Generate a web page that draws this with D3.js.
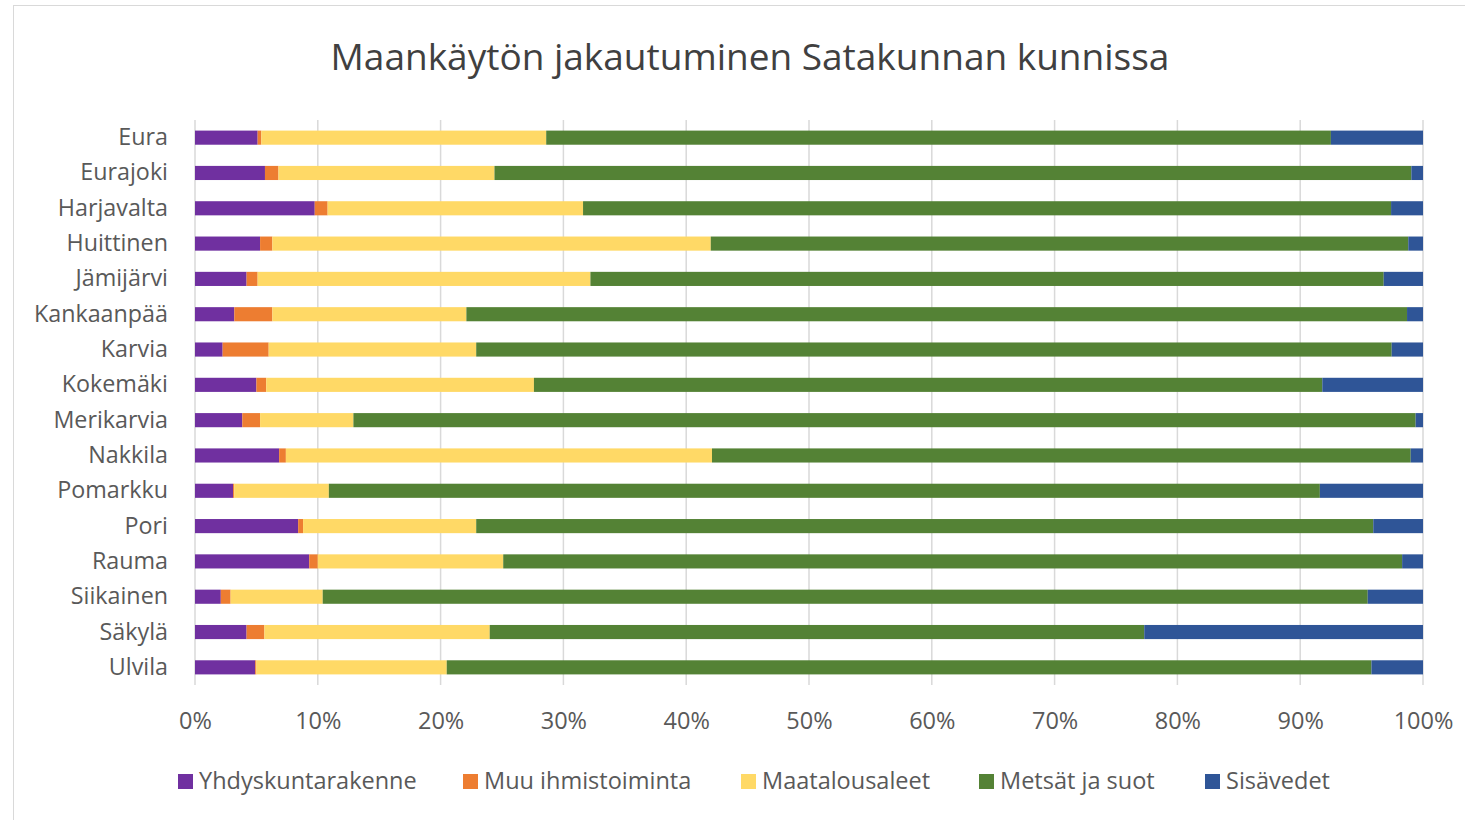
<!DOCTYPE html>
<html>
<head>
<meta charset="utf-8">
<script src="https://cdn.jsdelivr.net/npm/d3@7"></script>
<style>
  body { margin: 0; background: #fff; }
  svg { display: block; font-family: 'Open Sans', sans-serif; }
</style>
</head>
<body>
<div id="chart"></div>
<script>
// Municipalities (top to bottom)
const kunnat = ['Eura', 'Eurajoki', 'Harjavalta', 'Huittinen', 'Jämijärvi', 'Kankaanpää', 'Karvia', 'Kokemäki',
  'Merikarvia', 'Nakkila', 'Pomarkku', 'Pori', 'Rauma', 'Siikainen', 'Säkylä', 'Ulvila'];

const seriesNames = ['Yhdyskuntarakenne', 'Muu ihmistoiminta', 'Maatalousaleet', 'Metsät ja suot', 'Sisävedet'];

// shares in percent
const yhdyskunta = [5.1, 5.7, 9.75, 5.3, 4.2, 3.2, 2.25, 5.0, 3.85, 6.85, 3.1, 8.4, 9.3, 2.1, 4.2, 4.9];
const muu        = [0.3, 1.1, 1.05, 1.0, 0.9, 3.1, 3.75, 0.8, 1.45, 0.55, 0.1, 0.4, 0.7, 0.8, 1.45, 0.1];
const maatalous  = [23.2, 17.6, 20.8, 35.7, 27.1, 15.8, 16.9, 21.8, 7.6, 34.7, 7.7, 14.1, 15.1, 7.5, 18.35, 15.5];
const metsat     = [63.9, 74.7, 65.8, 56.8, 64.6, 76.6, 74.55, 64.2, 86.5, 56.9, 80.7, 73.05, 73.2, 85.1, 53.3, 75.3];
const sisavedet  = [7.5, 0.95, 2.6, 1.2, 3.2, 1.3, 2.55, 8.2, 0.6, 1.0, 8.4, 4.05, 1.7, 4.5, 22.7, 4.2];

const tickValues = [0, 0.1, 0.2, 0.3, 0.4, 0.5, 0.6, 0.7, 0.8, 0.9, 1];

const colors = ['#7030A0', '#ED7D31', '#FFD966', '#548235', '#2F5597'];

const rows = kunnat.map((k, i) => {
  const vals = [yhdyskunta[i], muu[i], maatalous[i], metsat[i], sisavedet[i]];
  const total = d3.sum(vals);
  const row = { kunta: k };
  seriesNames.forEach((s, j) => { row[s] = vals[j] / total; });
  return row;
});

const width = 1465;
const height = 820;
const margin = { top: 120, right: 42, bottom: 135, left: 195 };

const svg = d3.select('#chart')
  .append('svg')
  .attr('width', width)
  .attr('height', height);

// chart frame
svg.append('rect')
  .attr('x', 13.5)
  .attr('y', 5.5)
  .attr('width', width)
  .attr('height', height)
  .attr('fill', 'none')
  .attr('stroke', '#d9d9d9');

svg.append('text')
  .attr('x', 750)
  .attr('y', 70)
  .attr('text-anchor', 'middle')
  .attr('font-size', 37)
  .attr('fill', '#404040')
  .text('Maankäytön jakautuminen Satakunnan kunnissa');

const x = d3.scaleLinear()
  .domain([0, 1])
  .range([margin.left, width - margin.right]);

const y = d3.scaleBand()
  .domain(kunnat)
  .range([margin.top, height - margin.bottom])
  .paddingInner(0.6)
  .paddingOuter(0.3);

// gridlines
svg.append('g')
  .selectAll('line')
  .data(tickValues)
  .join('line')
  .attr('x1', d => x(d))
  .attr('x2', d => x(d))
  .attr('y1', margin.top)
  .attr('y2', height - margin.bottom)
  .attr('stroke', '#d9d9d9')
  .attr('stroke-width', 1.5);

const stack = d3.stack().keys(seriesNames);
const stacked = stack(rows);

svg.append('g')
  .selectAll('g')
  .data(stacked)
  .join('g')
  .attr('fill', (d, i) => colors[i])
  .selectAll('rect')
  .data(d => d)
  .join('rect')
  .attr('x', d => x(d[0]))
  .attr('y', d => y(d.data.kunta))
  .attr('width', d => x(d[1]) - x(d[0]))
  .attr('height', y.bandwidth());

// x axis labels
const xAxis = d3.axisBottom(x)
  .tickValues(tickValues)
  .tickFormat(d3.format('.0%'))
  .tickSize(0)
  .tickPadding(0);

const xg = svg.append('g')
  .attr('transform', `translate(0, ${height - margin.bottom + 27})`)
  .call(xAxis);
xg.select('.domain').remove();
xg.selectAll('text')
  .attr('font-size', 23.5)
  .attr('font-family', "'Open Sans', sans-serif")
  .attr('fill', '#595959');

// y axis labels
const yAxis = d3.axisLeft(y).tickSize(0).tickPadding(27);
const yg = svg.append('g')
  .attr('transform', `translate(${margin.left}, 0)`)
  .call(yAxis);
yg.select('.domain').remove();
yg.selectAll('text')
  .attr('font-size', 23.3)
  .attr('font-family', "'Open Sans', sans-serif")
  .attr('fill', '#595959');

// legend
const legendX = [178, 463, 741, 979, 1205];
const legend = svg.append('g')
  .selectAll('g')
  .data(seriesNames)
  .join('g')
  .attr('transform', (d, i) => `translate(${legendX[i]}, 774)`);

legend.append('rect')
  .attr('width', 15)
  .attr('height', 15)
  .attr('fill', (d, i) => colors[i]);

legend.append('text')
  .attr('x', 21)
  .attr('y', 15)
  .attr('font-size', 23.5)
  .attr('fill', '#595959')
  .text(d => d);
</script>
</body>
</html>
